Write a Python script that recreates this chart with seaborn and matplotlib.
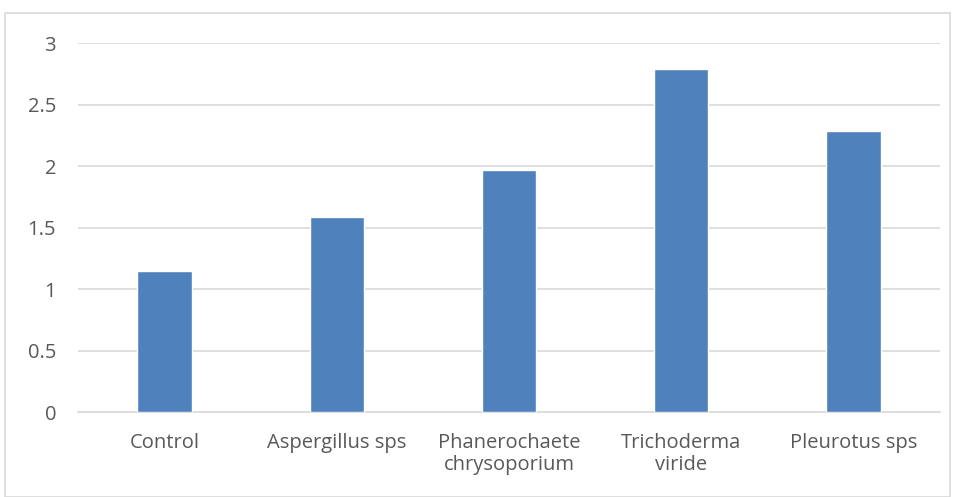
import pandas as pd
import matplotlib.pyplot as plt
import seaborn as sns
from matplotlib.patches import Rectangle

# --- data ---
categories = ['Control', 'Aspergillus sps', 'Phanerochaete\nchrysoporium',
              'Trichoderma\nviride', 'Pleurotus sps']
values = [1.15, 1.59, 1.97, 2.79, 2.29]
y_ticks = [0, 0.5, 1, 1.5, 2, 2.5, 3]
y_tick_labels = ['0', '0.5', '1', '1.5', '2', '2.5', '3']

df = pd.DataFrame({'Category': categories, 'Value': values})

sns.set_theme(style="white")
plt.rcParams['font.family'] = ['Open Sans', 'DejaVu Sans']

fig = plt.figure(figsize=(9.54, 4.97), dpi=100)
ax = fig.add_axes([0.082, 0.171, 0.903, 0.742])

sns.barplot(x='Category', y='Value', data=df, ax=ax, color='#4f81bd',
            width=0.315, saturation=1, zorder=3)

ax.set_ylim(0, 3)
ax.set_yticks(y_ticks)
ax.set_yticklabels(y_tick_labels)
ax.grid(axis='y', color='#d9d9d9', linewidth=1.2, zorder=0)
ax.set_axisbelow(True)
ax.set_xlabel('')
ax.set_ylabel('')

for side in ['top', 'right', 'left']:
    ax.spines[side].set_visible(False)
ax.spines['bottom'].set_color('#d9d9d9')
ax.spines['bottom'].set_linewidth(1.2)

ax.tick_params(axis='both', length=0, labelcolor='#595959')
ax.tick_params(axis='y', pad=16, labelsize=14.5)
ax.tick_params(axis='x', pad=15, labelsize=14.5)
for lbl in ax.get_xticklabels():
    lbl.set_linespacing(1.15)

# light chart border like the original office chart
fig.patches.append(Rectangle((5 / 954, 0), 945 / 954, 1 - 13 / 497,
                             transform=fig.transFigure, fill=False,
                             edgecolor='#d9d9d9', linewidth=1.2))

fig.savefig('out.png', dpi=100)
